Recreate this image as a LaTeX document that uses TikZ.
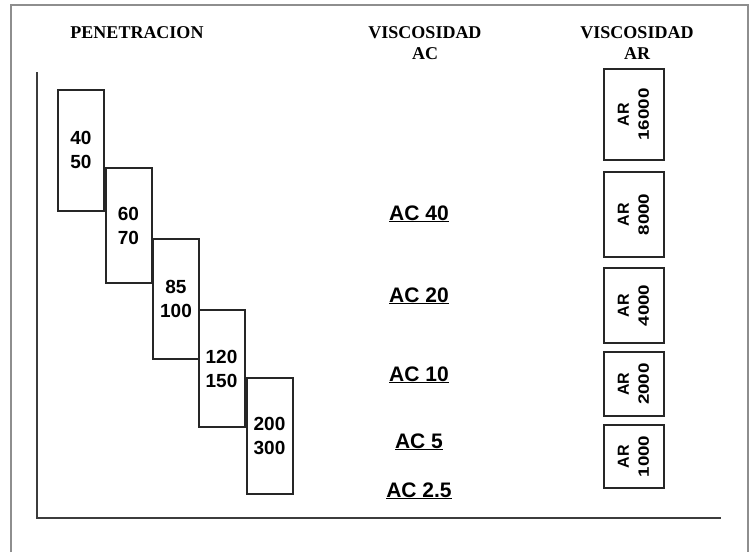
\documentclass[tikz,border=0pt]{standalone}
\usepackage{fontspec}
\setmainfont{Liberation Serif}
\setsansfont{Liberation Sans}
\newfontfamily\ArWide[FakeStretch=1.25]{Liberation Sans}
\usetikzlibrary{positioning}
\definecolor{AxisGray}{HTML}{3C3C3C}
\definecolor{BoxDark}{HTML}{262626}
\definecolor{FrameGray}{HTML}{8E8E8E}
\tikzset{
  penbox/.style={draw=BoxDark,line width=2pt,minimum width=46pt,inner sep=0pt,align=center,
    font=\sffamily\bfseries\fontsize{19}{24}\selectfont},
  arbox/.style={draw=BoxDark,line width=2pt,rotate=90,minimum height=60pt,inner sep=0pt,align=center,
    font=\sffamily\bfseries\fontsize{16}{20}\selectfont},
  aclabel/.style={anchor=base,inner sep=0pt,font=\sffamily\bfseries\fontsize{21}{24}\selectfont},
  header/.style={anchor=north,inner sep=0pt,align=center,font=\bfseries\fontsize{18}{21}\selectfont}
}

\begin{document}
\begin{tikzpicture}[x=1pt,y=-1pt]
    \useasboundingbox (0,0) rectangle (750,552);
    % outer frame
    \coordinate (fbl) at (11,552);
    \coordinate (ftl) at (11,5);
    \coordinate (ftr) at (748,5);
    \coordinate (fbr) at (748,552);
    \draw[FrameGray,line width=1.5pt] (fbl)--(ftl)--(ftr)--(fbr);
    % axes
    \coordinate (ytop) at (37,72);
    \coordinate (origin) at (37,518);
    \coordinate (xend) at (721,518);
    \draw[AxisGray,line width=2.8pt] (ytop)--(origin)--(xend);
    % headers
    \node[header] (hpen) at (137,26) {PENETRACION};
    \node[header] (hac) at (425,26) {VISCOSIDAD\\AC};
    \node[header] (har) at (637,26) {VISCOSIDAD\\AR};
    % penetration grades
    \foreach \i/\cx/\cy/\h/\a/\b in {1/81/150/121/40/50,2/128.5/225.5/115/60/70,
        3/176/298.5/120/85/100,4/221.5/368.5/117/120/150,5/269.5/436/116/200/300}{
      \node[penbox,minimum height=\h pt] (pen\i) at (\cx,\cy) {\a\\\b};
    }
    % AC grades
    \foreach \i/\y/\t in {1/220/40,2/302/20,3/381/10,4/448/5,5/497/2.5}{
      \node[aclabel] (ac\i) at (419,\y) {\underline{AC \t}};
    }
    % AR grades
    \foreach \i/\cy/\h/\n in {1/114.5/91/16000,2/214.5/85/8000,3/305.5/75/4000,
        4/384/64/2000,5/456.5/63/1000}{
      \node[arbox,minimum width=\h pt] (ar\i) at (633.5,\cy)
        {AR\\{\ArWide\fontsize{15}{20}\selectfont\n}};
    }
\end{tikzpicture}
\end{document}
